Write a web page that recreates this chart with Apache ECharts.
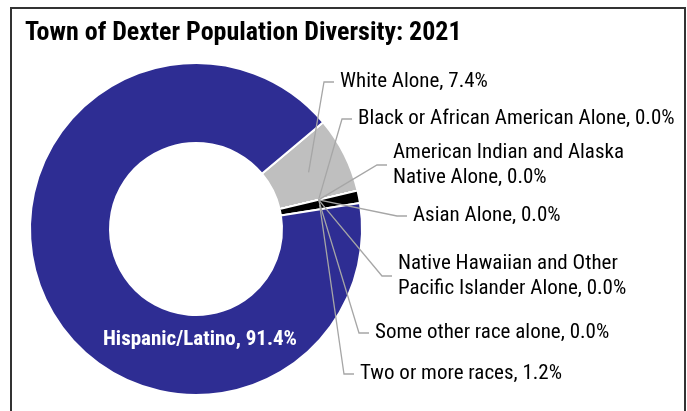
<!DOCTYPE html>
<html><head><meta charset="utf-8">
<script src="https://cdn.jsdelivr.net/npm/echarts@6/dist/echarts.min.js"></script>
<style>html,body{margin:0;padding:0;background:#fff}#c{width:687px;height:411px}</style>
</head><body><div id="c"></div>
<script>
// ---- data ----
const titleText = 'Town of Dexter Population Diversity: 2021';
const categories = [
  'White Alone',
  'Black or African American Alone',
  'American Indian and Alaska\nNative Alone',
  'Asian Alone',
  'Native Hawaiian and Other\nPacific Islander Alone',
  'Some other race alone',
  'Two or more races',
  'Hispanic/Latino'
];
const values = [7.4, 0.0, 0.0, 0.0, 0.0, 0.0, 1.2, 91.4];
const colors = ['#BFBFBF', '#000000', '#000000', '#000000', '#000000', '#000000', '#000000', '#2E2D93'];

// ---- label placement (layout, not data) ----
const labelSpots = [[340, 82], [358, 119], [393, 165], [413, 216], [398, 276], [375, 333], [360, 374], [200, 340]];
const FONT = "'Roboto Condensed','Liberation Sans',Arial,sans-serif";

const chart = echarts.init(document.getElementById('c'), null, {renderer: 'canvas'});
const lastIdx = categories.length - 1;

chart.setOption({
  animation: false,
  backgroundColor: '#fff',
  title: {
    text: titleText, left: 25, top: 20, padding: 0,
    textStyle: {fontFamily: FONT, fontSize: 26, fontWeight: 'bold', color: '#000'}
  },
  series: [{
    type: 'pie',
    center: [196, 229],
    radius: [86, 166],
    startAngle: 40,
    clockwise: true,
    avoidLabelOverlap: false,
    emphasis: {disabled: true},
    itemStyle: {borderColor: '#fff', borderWidth: 2},
    label: {
      show: true,
      fontFamily: FONT, fontSize: 21, color: '#000', lineHeight: 25,
      formatter: p => p.name + ', ' + Number(p.value).toFixed(1) + '%'
    },
    labelLine: {show: false},
    labelLayout: function (p) {
      const s = labelSpots[p.dataIndex];
      return p.dataIndex === lastIdx
        ? {x: s[0], y: s[1], align: 'center', verticalAlign: 'middle'}
        : {x: s[0], y: s[1], align: 'left', verticalAlign: 'middle'};
    },
    data: categories.map((c, i) => {
      const d = {name: c, value: values[i], itemStyle: {color: colors[i]}};
      if (i === lastIdx) d.label = {color: '#fff', fontWeight: 'bold', fontSize: 21};
      return d;
    })
  }]
});

// leader lines: from the ring's mid-radius at each slice's mid-angle (library layout) to its label
const sData = chart.getModel().getSeriesByIndex(0).getData();
const leaders = [];
for (let i = 0; i < lastIdx; i++) {
  const lay = sData.getItemLayout(i);
  const mid = (lay.startAngle + lay.endAngle) / 2;
  const rm = (lay.r + lay.r0) / 2;
  const s = labelSpots[i];
  leaders.push({
    type: 'polyline', silent: true, z: 10,
    shape: {points: [[lay.cx + rm * Math.cos(mid), lay.cy + rm * Math.sin(mid)], [s[0] - 16, s[1]], [s[0] - 6, s[1]]]},
    style: {fill: 'none', stroke: '#A6A6A6', lineWidth: 1.3}
  });
}
chart.setOption({
  graphic: leaders.concat([{
    type: 'rect', silent: true, z: 100,
    shape: {x: 11, y: 8, width: 674, height: 430},
    style: {fill: 'none', stroke: '#333', lineWidth: 2}
  }])
});
</script>
</body></html>
